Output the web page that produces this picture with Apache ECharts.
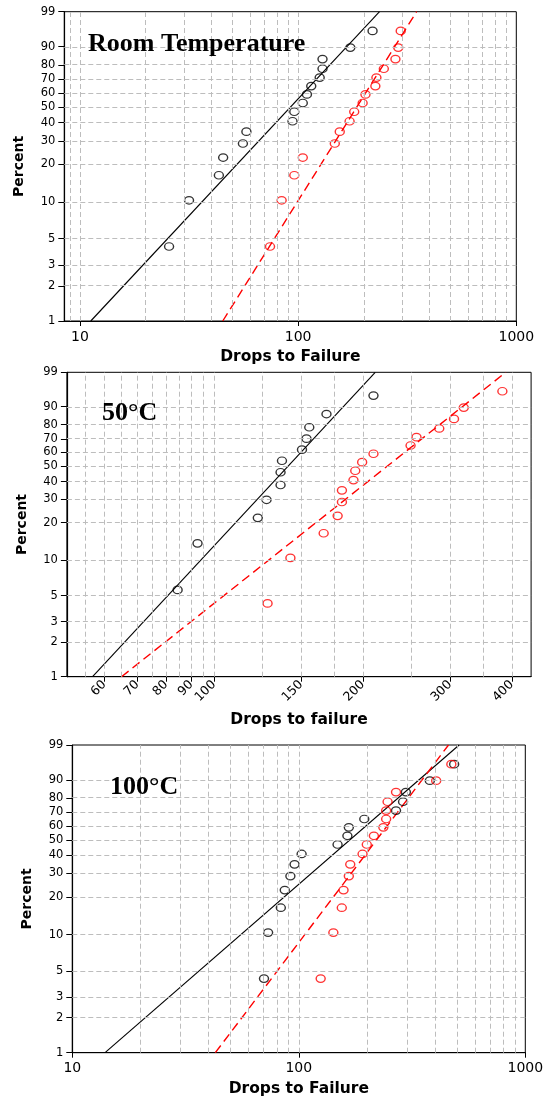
<!DOCTYPE html>
<html><head><meta charset="utf-8">
<script src="https://cdn.jsdelivr.net/npm/echarts@6/dist/echarts.min.js"></script>
<style>html,body{margin:0;padding:0;background:#fff}#c{width:552px;height:1099px}</style>
</head><body><div id="c"></div>
<script>
// ---- data ----
const percentTicks = [1, 2, 3, 5, 10, 20, 30, 40, 50, 60, 70, 80, 90, 99];
const percentGrid = [2, 3, 5, 10, 20, 30, 40, 50, 60, 70, 80, 90];
const fitPct = [1, 99];

const rankPct16 = [4.3, 10.4, 16.5, 22.6, 28.7, 34.8, 40.9, 47.0, 53.0, 59.1, 65.2, 71.3, 77.4, 83.5, 89.6, 95.7];
const rankPct12 = [5.6, 13.7, 21.8, 29.8, 37.9, 46.0, 54.0, 62.1, 70.2, 78.2, 86.3, 94.4];

// Room temperature
const rtBlack = [25.6, 31.6, 43.3, 45.3, 55.8, 57.9, 94.2, 96.0, 105.0, 109.7, 114.8, 125.5, 129.3, 129.3, 173.4, 219.3];
const rtRed = [74.3, 84.0, 96.0, 105.0, 147.2, 155.1, 172.1, 180.7, 197.5, 203.5, 225.9, 228.4, 247.0, 279.2, 287.6, 295.2];
const rtBlackFit = [11.2, 236.1];
const rtRedFit = [45.1, 349.0];

// 50 C
const c50Black = [84.4, 92.6, 122.6, 127.7, 136.3, 136.3, 137.2, 150.6, 153.8, 155.8, 168.8, 210.1];
const c50Red = [128.3, 142.7, 166.6, 177.8, 181.4, 181.4, 191.4, 193.0, 199.3, 210.1, 249.7, 256.7, 285.4, 305.7, 319.9, 382.9];
const c50BlackFit = [56.8, 211.8];
const c50RedFit = [65.0, 389.0];

// 100 C
const c100Black = [70.2, 73.2, 83.3, 86.7, 91.8, 95.8, 102.9, 148.3, 163.9, 166.3, 194.6, 268.7, 288.6, 297.0, 378.9, 485.2];
const c100Red = [124.9, 142.1, 154.8, 157.6, 166.3, 168.7, 191.2, 199.6, 214.5, 236.2, 243.0, 243.0, 246.6, 268.7, 404.1, 471.5];
const c100BlackFit = [13.95, 510.2];
const c100RedFit = [42.8, 458.1];

// axis ticks / grid values
const xTicks1 = [10, 100, 1000];
const xGrid1 = [9, 10, 20, 30, 40, 50, 60, 70, 80, 90, 100, 200, 300, 400, 500, 600, 700, 800, 900];
const xTicks2 = [60, 70, 80, 90, 100, 150, 200, 300, 400];
const xGrid2 = [55, 60, 65, 70, 75, 80, 85, 90, 95, 100, 125, 150, 175, 200, 250, 300, 350, 400];
const xTicks3 = [10, 100, 1000];
const xGrid3 = [20, 30, 40, 50, 60, 70, 80, 90, 100, 200, 300, 400, 500, 600, 700, 800, 900];

const titles = ['Room Temperature', '50°C', '100°C'];
const xNames = ['Drops to Failure', 'Drops to failure', 'Drops to Failure'];

// ---- helpers ----
const wb = p => Math.log(-Math.log(1 - p / 100));
const inv = w => 100 * (1 - Math.exp(-Math.exp(w)));

const panels = [
  { black: rtBlack, red: rtRed, bPct: rankPct16, rPct: rankPct16, bFit: rtBlackFit, rFit: rtRedFit,
    xTicks: xTicks1, xGrid: xGrid1, xmin: 8.47, xmax: 1000, rotate: 0,
    grid: { left: 64.3, top: 11.7, width: 452, height: 309.3 }, nameGap: 28, title: { left: 88, top: 31.5 } },
  { black: c50Black, red: c50Red, bPct: rankPct12, rPct: rankPct16, bFit: c50BlackFit, rFit: c50RedFit,
    xTicks: xTicks2, xGrid: xGrid2, xmin: 50.4, xmax: 437.7, rotate: 45,
    grid: { left: 66.9, top: 372.3, width: 464.2, height: 304.4 }, nameGap: 35.5, title: { left: 102, top: 400.5 } },
  { black: c100Black, red: c100Red, bPct: rankPct16, rPct: rankPct16, bFit: c100BlackFit, rFit: c100RedFit,
    xTicks: xTicks3, xGrid: xGrid3, xmin: 10, xmax: 1000, rotate: 0,
    grid: { left: 72.3, top: 745, width: 453, height: 307.7 }, nameGap: 28, title: { left: 110, top: 774 } }
];

const font = 'DejaVu Sans';
const grids = [], xAxes = [], yAxes = [], series = [], titleOpts = [];

panels.forEach((P, i) => {
  grids.push(Object.assign({ show: true, borderColor: '#000', borderWidth: 1, backgroundColor: 'transparent',
    containLabel: false, outerBoundsMode: 'none' }, P.grid));
  xAxes.push({
    gridIndex: i, type: 'log', logBase: 10, min: P.xmin, max: P.xmax,
    name: xNames[i], nameLocation: 'middle', nameGap: P.nameGap,
    nameTextStyle: { fontFamily: font, fontWeight: 'bold', fontSize: 15.5, color: '#000' },
    axisLine: { show: true, onZero: false, lineStyle: { color: '#000', width: 1.2 } },
    axisTick: { show: true, length: 5, customValues: P.xTicks, lineStyle: { color: '#000' } },
    axisLabel: { customValues: P.xTicks, fontFamily: font, fontSize: P.rotate ? 12.5 : 14, color: '#000',
      rotate: P.rotate, margin: P.rotate ? 6 : 9, formatter: v => String(Math.round(v)) },
    splitLine: { show: false }, minorSplitLine: { show: false }
  });
  yAxes.push({
    gridIndex: i, type: 'value', min: wb(1), max: wb(99),
    name: 'Percent', nameLocation: 'middle', nameGap: 37.5, nameRotate: 90,
    nameTextStyle: { fontFamily: font, fontWeight: 'bold', fontSize: 14, color: '#000' },
    axisLine: { show: true, onZero: false, lineStyle: { color: '#000', width: 1.2 } },
    axisTick: { show: true, length: 6, customValues: percentTicks.map(wb), lineStyle: { color: '#000' } },
    axisLabel: { customValues: percentTicks.map(wb), fontFamily: font, fontSize: 11.5, color: '#000', margin: 9,
      formatter: v => String(Math.round(inv(v))) },
    splitLine: { show: false }
  });
  // grid lines
  series.push({
    type: 'line', xAxisIndex: i, yAxisIndex: i, data: [], z: 1, silent: true,
    markLine: {
      silent: true, animation: false, symbol: ['none', 'none'], label: { show: false },
      lineStyle: { color: '#bdbdbd', type: [5, 3], width: 1 },
      emphasis: { disabled: true },
      data: P.xGrid.map(v => ({ xAxis: v })).concat(percentGrid.map(p => ({ yAxis: wb(p) })))
    }
  });
  series.push({
    type: 'line', xAxisIndex: i, yAxisIndex: i, z: 3, symbol: 'none', silent: true,
    data: fitPct.map((p, j) => [P.bFit[j], wb(p)]),
    lineStyle: { color: '#000', width: 1.1 }
  });
  series.push({
    type: 'line', xAxisIndex: i, yAxisIndex: i, z: 3, symbol: 'none', silent: true,
    data: fitPct.map((p, j) => [P.rFit[j], wb(p)]),
    lineStyle: { color: '#ff0000', width: 1.4, type: [9, 5] }
  });
  series.push({
    type: 'scatter', xAxisIndex: i, yAxisIndex: i, z: 4, symbol: 'circle', symbolSize: [9, 7.5],
    data: P.black.map((x, j) => [x, wb(P.bPct[j])]),
    itemStyle: { color: 'rgba(0,0,0,0)', borderColor: '#000', borderWidth: 1.3 }
  });
  series.push({
    type: 'scatter', xAxisIndex: i, yAxisIndex: i, z: 4, symbol: 'circle', symbolSize: [9, 7.5],
    data: P.red.map((x, j) => [x, wb(P.rPct[j])]),
    itemStyle: { color: 'rgba(0,0,0,0)', borderColor: '#ff0000', borderWidth: 1.3 }
  });
  titleOpts.push({
    text: titles[i], left: P.title.left, top: P.title.top, padding: 0,
    textStyle: { fontFamily: 'Liberation Serif', fontWeight: 'bold', fontSize: 26, color: '#000', lineHeight: 26 }
  });
});

const chart = echarts.init(document.getElementById('c'), null, { renderer: 'canvas' });
chart.setOption({
  animation: false,
  backgroundColor: '#fff',
  title: titleOpts,
  grid: grids,
  xAxis: xAxes,
  yAxis: yAxes,
  series: series
});
</script>
</body></html>
